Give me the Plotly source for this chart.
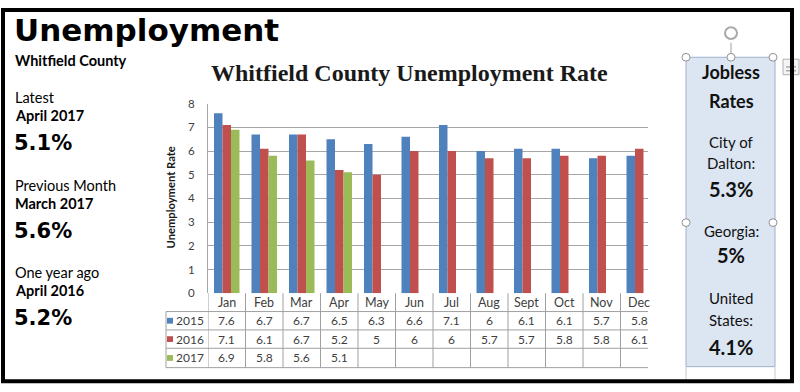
import plotly.graph_objects as go

W, H = 800, 392

months = ["Jan", "Feb", "Mar", "Apr", "May", "Jun", "Jul", "Aug", "Sept", "Oct", "Nov", "Dec"]
years = ["2015", "2016", "2017"]
v2015 = [7.6, 6.7, 6.7, 6.5, 6.3, 6.6, 7.1, 6, 6.1, 6.1, 5.7, 5.8]
v2016 = [7.1, 6.1, 6.7, 5.2, 5, 6, 6, 5.7, 5.7, 5.8, 5.8, 6.1]
v2017 = [6.9, 5.8, 5.6, 5.1, None, None, None, None, None, None, None, None]
colors = ["#4F81BD", "#C0504D", "#9BBB59"]
y_ticks = [0, 1, 2, 3, 4, 5, 6, 7, 8]

left_labels = ["Latest", "Previous Month", "One year ago"]
left_periods = ["April 2017", "March 2017", "April 2016"]
left_values = ["5.1%", "5.6%", "5.2%"]
box_labels = [["City of", "Dalton:"], ["Georgia:"], ["United", "States:"]]
box_values = ["5.3%", "5%", "4.1%"]


def X(p):
    return p / W


def Y(p):
    return 1 - p / H


SANS = "Lato, 'Noto Sans', sans-serif"
HEAVY = "'DejaVu Sans', Verdana, sans-serif"
SERIF = "'Liberation Serif', 'Times New Roman', serif"
TXT = "#404040"

# plot geometry (pixels)
PL, PR, PT, PB = 208, 648, 100, 296
CAT_W = 37.5
x_max = -0.5 + (PR - PL) / CAT_W

fig = go.Figure()
for name, vals, c in zip(years, [v2015, v2016, v2017], colors):
    fig.add_trace(go.Bar(x=months, y=vals, name=name, marker=dict(color=c, line=dict(width=0)),
                         showlegend=False, hoverinfo="skip"))

shapes = []
ann = []


def line(x0, y0, x1, y1, color="#A0A0A0", width=1):
    shapes.append(dict(type="line", xref="paper", yref="paper", x0=X(x0), x1=X(x1),
                       y0=Y(y0), y1=Y(y1), line=dict(color=color, width=width), layer="above"))


def text(x, y, s, size, color="#000", family=SANS, bold=False, xanchor="left", xref="paper", base=True):
    # y is the text baseline when base=True, otherwise the middle
    ym = y - 0.35 * size if base else y
    ann.append(dict(x=x if xref != "paper" else X(x), y=Y(ym), xref=xref, yref="paper",
                    text=f"<b>{s}</b>" if bold else s, showarrow=False,
                    xanchor=xanchor, yanchor="middle",
                    font=dict(size=size, color=color, family=family)))


# ---- data table under the chart ----
ROWS = [296, 315, 334, 353, 373]
for ry in ROWS[1:]:
    line(166, ry, PR, ry)
line(166, 315, 166, 373)
for i in range(len(months)):
    shapes.append(dict(type="line", xref="x", yref="paper", x0=i - 0.5, x1=i - 0.5,
                       y0=Y(296), y1=Y(373), line=dict(color="#A0A0A0", width=1), layer="above"))
for i, m in enumerate(months):
    text(i, 306, m, 12.5, TXT, xanchor="center", xref="x", base=False)
for r, (name, vals, c) in enumerate(zip(years, [v2015, v2016, v2017], colors)):
    cy = (ROWS[r + 1] + ROWS[r + 2]) / 2
    shapes.append(dict(type="rect", xref="paper", yref="paper", x0=X(167), x1=X(173),
                       y0=Y(cy - 3), y1=Y(cy + 3), fillcolor=c, line=dict(width=0)))
    text(174, cy, name, 12, TXT, base=False)
    for i, v in enumerate(vals):
        if v is not None:
            text(i, cy, f"{v:g}", 12, TXT, xanchor="center", xref="x", base=False)

# ---- chart title & axis title ----
text(409, 77, "Whitfield County Unemployment Rate", 24, "#1a1a1a", SERIF, True, "center")
ann.append(dict(x=X(170), y=Y(197), xref="paper", yref="paper", text="<b>Unemployment Rate</b>",
                showarrow=False, textangle=-90, xanchor="center", yanchor="middle",
                font=dict(size=11.2, color="#1a1a1a", family=SANS)))

# ---- left panel ----
text(12, 35, "Unemployment", 31, "#000", HEAVY, True)
text(13, 60, "Whitfield County", 14.5, "#000", SANS, True)
for k in range(3):
    off = [0, 91, 181][k]
    text(13, 99 + off, left_labels[k], 14.5, "#000", SANS)
    text(13, 117 + off, left_periods[k], 14.5, "#000", SANS, True)
    text(12, 148 + off, left_values[k], 21, "#000", HEAVY, True)

# ---- right text box ----
BX0, BX1, BY0, BY1 = 686, 775, 52, 372
CX = 731
shapes.append(dict(type="rect", xref="paper", yref="paper", x0=X(BX0), x1=X(BX1), y0=Y(BY0), y1=Y(BY1),
                   fillcolor="#DCE6F2", line=dict(color="#9DB1CC", width=1)))
line(BX0, BY1, BX0, 386, "#C8C8C8", 1)
line(BX1, BY1, BX1, 386, "#C8C8C8", 1)
text(CX, 74, "Jobless", 18, "#111", SANS, True, "center")
text(CX, 104, "Rates", 18, "#111", SANS, True, "center")
label_bases = [[145, 167], [237], [306, 329]]
value_bases = [195, 264, 359]
for labels, lb, val, vb in zip(box_labels, label_bases, box_values, value_bases):
    for s, b in zip(labels, lb):
        text(CX, b, s, 15, "#111", SANS, False, "center")
    text(CX, vb, val, 20, "#111", SANS, True, "center")

# selection handles
line(CX, BY0, CX, 37, "#A0A0A0", 1)
for hx, hy in [(BX0, BY0), (CX, BY0), (773, BY0), (BX0, 223), (773, 223)]:
    shapes.append(dict(type="circle", xref="paper", yref="paper", x0=X(hx - 4), x1=X(hx + 4),
                       y0=Y(hy - 4), y1=Y(hy + 4), fillcolor="white", line=dict(color="#909090", width=1)))
shapes.append(dict(type="circle", xref="paper", yref="paper", x0=X(CX - 6), x1=X(CX + 6),
                   y0=Y(21), y1=Y(33), fillcolor="rgba(0,0,0,0)", line=dict(color="#A8A8A8", width=2)))
shapes.append(dict(type="rect", xref="paper", yref="paper", x0=X(783), x1=X(799),
                   y0=Y(54), y1=Y(70), fillcolor="#F4F4F4", line=dict(color="#B0B0B0", width=1)))
line(786, 62, 796, 62, "#888", 1)
line(786, 66, 796, 66, "#888", 1)

# outer frame
shapes.append(dict(type="rect", xref="paper", yref="paper", x0=X(3), x1=X(792), y0=Y(3), y1=Y(387),
                   fillcolor="rgba(0,0,0,0)", line=dict(color="#000", width=4), layer="above"))

fig.update_layout(
    width=W, height=H, margin=dict(l=0, r=0, t=0, b=0),
    paper_bgcolor="white", plot_bgcolor="white",
    barmode="group", bargap=0.32, bargroupgap=0,
    xaxis=dict(domain=[X(PL), X(PR)], range=[-0.5, x_max], showticklabels=False, showgrid=False,
               zeroline=False, showline=False, fixedrange=True),
    yaxis=dict(domain=[Y(PB), Y(PT)], range=[0, 8], tickvals=y_ticks, showgrid=True,
               gridcolor="#A6A6A6", gridwidth=1, zeroline=False, showline=True, linecolor="#A6A6A6",
               ticks="", ticklabelstandoff=10, fixedrange=True,
               tickfont=dict(size=11.5, color=TXT, family=SANS)),
    shapes=shapes, annotations=ann, showlegend=False,
)

fig.write_html("out.html", config=dict(displayModeBar=False),
               post_script="document.body.style.margin='0px'; document.body.style.overflow='hidden';")
